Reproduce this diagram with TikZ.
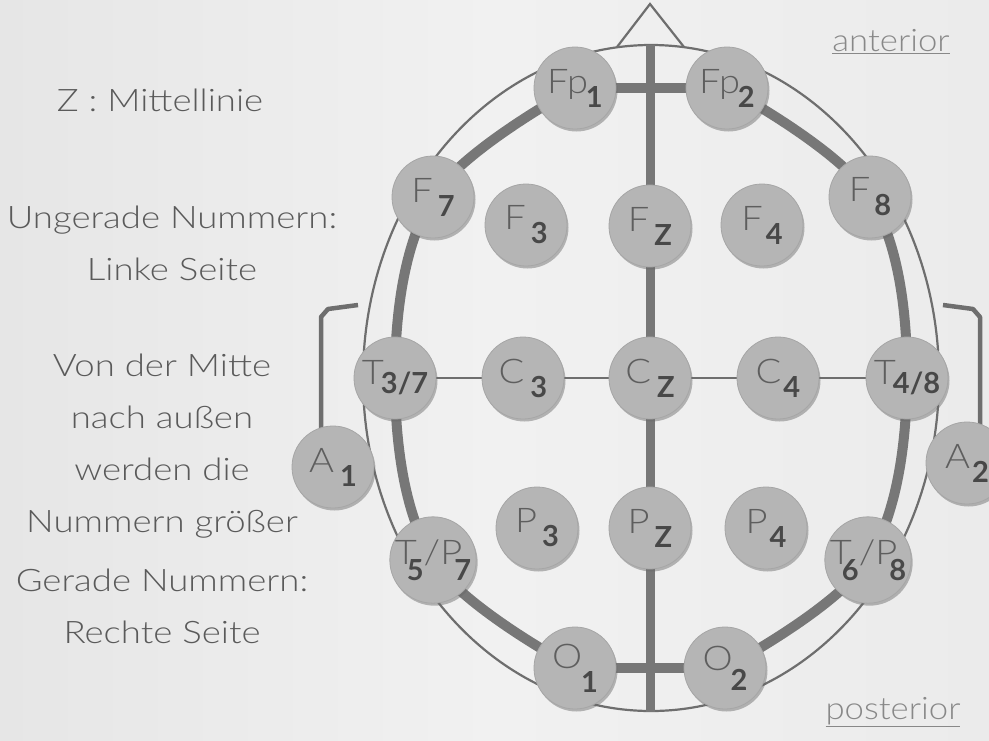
\documentclass[tikz,border=0pt]{standalone}
\usepackage{fontspec}
\setmainfont{Lato}
\IfFontExistsTF{Lato Light}{\newfontfamily\lite{Lato Light}[FakeStretch=1.12]\newfontfamily\liteb{Lato Light}[FakeStretch=1.18]}{\newfontfamily\lite{Lato}[FakeStretch=1.12]\newfontfamily\liteb{Lato}[FakeStretch=1.18]}
\usetikzlibrary{shadows}
\definecolor{bgl}{HTML}{E6E6E6}
\definecolor{bgm}{HTML}{F1F1F1}
\definecolor{bgr}{HTML}{EBEBEB}
\definecolor{ringc}{HTML}{777777}
\definecolor{thinc}{HTML}{6E6E6E}
\definecolor{nodef}{HTML}{B5B5B5}
\definecolor{nodeb}{HTML}{A6A6A6}
\definecolor{lettc}{HTML}{5E5E5E}
\definecolor{subc}{HTML}{484848}
\definecolor{txtc}{HTML}{5A5A5A}
\definecolor{apc}{HTML}{888888}
\pgfdeclarelayer{bg}
\pgfsetlayers{bg,main}
\newcommand\mf{\lite\fontsize{34}{34}\selectfont\color{lettc}}
\newcommand\sbf{\fontsize{29}{29}\selectfont\bfseries\color{subc}}
\newcommand\elab[3]{{\mf #1}\hspace{#3}\raisebox{-14pt}{\sbf #2}}
\tikzset{
  electrode/.style={circle, minimum size=82pt, inner sep=0pt, fill=nodef, draw=nodeb, line width=0.8pt,
    drop shadow={shadow xshift=1.5pt, shadow yshift=-2.5pt, opacity=0.45, fill=black!60}},
  thickring/.style={draw=ringc, line width=10pt},
  thinline/.style={draw=thinc, line width=2.2pt},
  bracketline/.style={draw=thinc, line width=4.5pt, line join=round},
  sidetext/.style={align=center, text=txtc, font=\liteb\fontsize{31}{52}\selectfont},
  aptext/.style={text=apc, font=\lite\fontsize{31}{34}\selectfont}
}
\begin{document}
\begin{tikzpicture}[x=1pt,y=-1pt]
\useasboundingbox (0,0) rectangle (989,740);
% electrodes
\node[electrode] (fp1) at (575,88) {\elab{Fp}{1}{-2pt}};
\node[electrode] (fp2) at (727,88) {\elab{Fp}{2}{-2pt}};
\node[electrode] (f7) at (433,197) {\elab{F}{7}{5pt}};
\node[electrode] (f8) at (870,197) {\elab{F}{8}{4pt}};
\node[electrode] (f3) at (526,225) {\elab{F}{3}{5pt}};
\node[electrode] (fz) at (650,226) {\elab{F}{Z}{5pt}};
\node[electrode] (f4) at (762,225) {\elab{F}{4}{3pt}};
\node[electrode] (t3) at (395,378) {{\mf T}\hspace{-3pt}\raisebox{-9pt}{\sbf 3/7}};
\node[electrode] (c3) at (523,378) {\elab{C}{3}{6pt}};
\node[electrode] (cz) at (650,378) {\elab{C}{Z}{6pt}};
\node[electrode] (c4) at (778,378) {\elab{C}{4}{2pt}};
\node[electrode] (t4) at (907,378) {{\mf T}\hspace{-3pt}\raisebox{-9pt}{\sbf 4/8}};
\node[electrode] (a1) at (333,467) {\elab{A}{1}{6pt}};
\node[electrode] (a2) at (967,463) {\elab{A}{2}{2pt}};
\node[electrode] (t5) at (433,560) {{\mf T}\hspace{-10pt}\raisebox{-16pt}{\sbf 5}{\mf /P}\hspace{-8pt}\raisebox{-16pt}{\sbf 7}};
\node[electrode] (p3) at (537,528) {\elab{P}{3}{5pt}};
\node[electrode] (pz) at (650,528) {\elab{P}{Z}{5pt}};
\node[electrode] (p4) at (766,528) {\elab{P}{4}{2pt}};
\node[electrode] (t6) at (868,560) {{\mf T}\hspace{-10pt}\raisebox{-16pt}{\sbf 6}{\mf /P}\hspace{-8pt}\raisebox{-16pt}{\sbf 8}};
\node[electrode] (o1) at (575,668) {{\mf O}\hspace{-1pt}\raisebox{-24pt}{\sbf 1}};
\node[electrode] (o2) at (725,668) {{\mf O}\hspace{-2pt}\raisebox{-20pt}{\sbf 2}};
% helper coordinates
\coordinate (midtop) at (650,45);
\coordinate (midbot) at (650,712);
\coordinate (headc) at (651,378);
\coordinate (nosel) at (617,47);
\coordinate (nosetip) at (650,4);
\coordinate (noser) at (684,47);
\coordinate (lb1) at (358,305);
\coordinate (lb2) at (328,309);
\coordinate (lb3) at (321,317);
\coordinate (lb4) at (321,428);
\coordinate (rb1) at (943,305);
\coordinate (rb2) at (973,309);
\coordinate (rb3) at (980,317);
\coordinate (rb4) at (980,428);
% side texts
\node[sidetext] (z) at (160,100) {Z : Mittellinie};
\node[sidetext] (ung) at (172,243) {Ungerade Nummern:\\Linke Seite};
\node[sidetext] (von) at (162,446) {Von der Mitte\\nach außen\\werden die\\Nummern größer};
\node[sidetext] (ger) at (162,606) {Gerade Nummern:\\Rechte Seite};
\node[aptext] (ant) at (891,42) {\underline{anterior}};
\node[aptext] (post) at (893,712) {\underline{posterior}};
\begin{pgfonlayer}{bg}
\shade[left color=bgl, right color=bgr, middle color=bgm] (0,0) rectangle (989,740);
\draw[thinline] (headc) ellipse [x radius=288, y radius=333];
\draw[thinline, line join=miter] (nosel) -- (nosetip) -- (noser);
\draw[thickring] (fp1.center) -- (fp2.center);
\draw[thickring] (o1.center) -- (o2.center);
\draw[thickring] plot[smooth, tension=0.6] coordinates {(fp2.center) (f8.center) (t4.center) (t6.center) (o2.center)};
\draw[thickring] plot[smooth, tension=0.6] coordinates {(fp1.center) (f7.center) (t3.center) (t5.center) (o1.center)};
\draw[ringc, line width=9pt] (midtop) -- (midbot);
\draw[thinline] (t3.center) -- (c3.center) -- (cz.center) -- (c4.center) -- (t4.center);
\draw[bracketline] (lb1) -- (lb2) -- (lb3) -- (lb4);
\draw[bracketline] (rb1) -- (rb2) -- (rb3) -- (rb4);
\end{pgfonlayer}
\end{tikzpicture}
\end{document}
